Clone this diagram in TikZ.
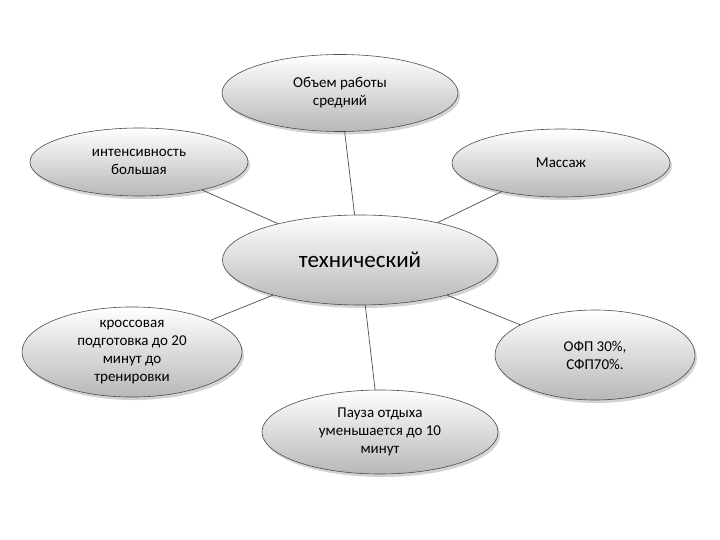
\documentclass[tikz,border=0pt]{standalone}
\usepackage{fontspec}
\setmainfont{Carlito}
\usetikzlibrary{shapes.geometric,shadows}
\begin{document}
\begin{tikzpicture}[x=1pt,y=-1pt,
  bub/.style={ellipse,draw=black!70,line width=0.6pt,top color=white,bottom color=black!28,
    drop shadow={opacity=0.35,shadow xshift=2pt,shadow yshift=-3pt},align=center,font=\fontsize{15}{18}\selectfont,inner sep=0pt},
  con/.style={draw=black!70,line width=0.7pt}]
\useasboundingbox (0,0) rectangle (720,540);
\node[bub,minimum width=236,minimum height=77] (top) at (340,93) {Объем работы\\средний};
\node[bub,minimum width=218,minimum height=68] (lt) at (139,162) {интенсивность\\большая};
\node[bub,minimum width=218,minimum height=68] (rt) at (561,163) {Массаж};
\node[bub,minimum width=275,minimum height=90,font=\fontsize{23}{26}\selectfont] (c) at (360,260) {технический};
\node[bub,minimum width=220,minimum height=87] (lb) at (132,352) {кроссовая\\подготовка до 20\\минут до\\тренировки};
\node[bub,minimum width=200,minimum height=90] (rb) at (595,355) {ОФП 30\%,\\СФП70\%.};
\node[bub,minimum width=236,minimum height=84] (bt) at (380,432) {Пауза отдыха\\уменьшается до 10\\минут};
\begin{scope}[on background layer/.try]
\end{scope}
\draw[con] (top) -- (c);
\draw[con] (lt) -- (c);
\draw[con] (rt) -- (c);
\draw[con] (lb) -- (c);
\draw[con] (rb) -- (c);
\draw[con] (bt) -- (c);
\end{tikzpicture}
\end{document}
